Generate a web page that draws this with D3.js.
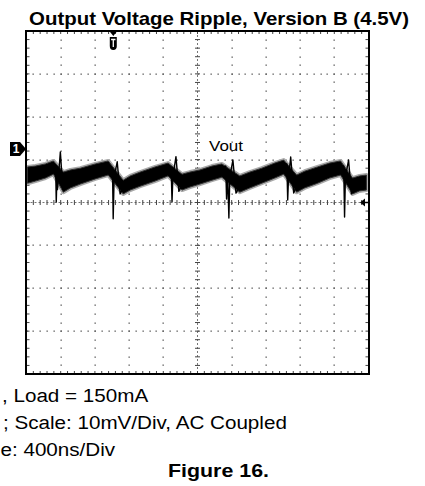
<!DOCTYPE html>
<html><head><meta charset="utf-8">
<script src="https://cdn.jsdelivr.net/npm/d3@7"></script>
<style>html,body{margin:0;padding:0;background:#fff;overflow:hidden}svg{display:block}</style>
</head><body>
<svg id="c" width="425" height="486"></svg>
<script>
// ---- data (time in ns, voltage in mV, 400ns/div, 10mV/div) ----
const title = "Output Voltage Ripple, Version B (4.5V)";
const channelLabel = "Vout";
const noteLines = [", Load = 150mA", "; Scale: 10mV/Div, AC Coupled", "e: 400ns/Div"];
const figureLabel = "Figure 16.";
const timeDomain = [0, 4000];
const voltDomain = [-40, 40];
const triggerTime = 1015;
const triggerLevel = 0;
const channelOffset = 12.5;

// band envelope of the noisy trace
const bandT  = [12, 105, 222, 315, 431, 513, 630, 805, 956, 1131, 1213, 1330, 1504, 1656, 1819, 1912, 2029, 2169, 2285, 2495, 2612, 2752, 2903, 3008, 3160, 3253, 3405, 3545, 3673, 3813, 3894, 3976];
const bandHi = [8.3, 8.5, 9.0, 9.7, 7.1, 7.6, 8.0, 9.0, 9.7, 5.2, 6.2, 7.1, 8.3, 9.2, 6.6, 7.1, 7.6, 8.5, 9.0, 6.2, 7.1, 8.0, 9.2, 9.9, 6.4, 7.3, 8.3, 9.2, 9.7, 5.7, 6.2, 6.4];
const bandLo = [4.5, 5.0, 5.7, 6.6, 2.4, 3.4, 4.3, 5.5, 6.4, 2.0, 2.9, 3.8, 5.0, 6.2, 2.9, 3.6, 4.3, 5.2, 5.9, 2.4, 3.4, 4.5, 5.7, 6.6, 2.4, 3.4, 4.5, 5.7, 6.4, 2.0, 2.7, 2.9];

// switching spikes (polyline points)
const spikes = [
  {t: [315, 342, 348, 356, 362, 396, 425, 460], v: [8.2, 7.0, 0.1, 6.0, 3.0, 11.8, 3.0, 4.5]},
  {t: [956, 1006, 1014, 1025, 1061, 1095, 1131], v: [8.0, 7.5, -3.8, 6.0, 9.5, 2.0, 3.5]},
  {t: [1656, 1692, 1702, 1712, 1748, 1782, 1819], v: [8.0, 8.0, 0.2, 6.0, 10.7, 2.6, 4.2]},
  {t: [2285, 2330, 2340, 2352, 2367, 2378, 2414, 2450, 2495], v: [8.0, 8.5, 0.8, 7.0, -3.6, 6.0, 9.9, 2.2, 3.8]},
  {t: [3008, 3045, 3055, 3065, 3090, 3125, 3160], v: [8.5, 9.0, 0.6, 6.0, 10.6, 2.2, 4.0]},
  {t: [3673, 3710, 3720, 3730, 3767, 3800, 3835], v: [8.5, 8.5, -3.4, 6.0, 9.9, 2.0, 3.5]}
];

// ---- drawing ----
const svg = d3.select("#c");
const x = d3.scaleLinear().domain(timeDomain).range([26.5, 368.5]);
const y = d3.scaleLinear().domain(voltDomain).range([374, 31]);
const x0 = x.range()[0], x1 = x.range()[1], y0 = y.range()[1], y1 = y.range()[0];

const minorX = d3.range(timeDomain[0], timeDomain[1] + 1, 80);
const majorX = d3.range(timeDomain[0], timeDomain[1] + 1, 400);
const minorY = d3.range(voltDomain[0], voltDomain[1] + 0.01, 2);
const majorY = d3.range(voltDomain[0], voltDomain[1] + 0.01, 10);

const grid = svg.append("g");
majorX.slice(1, -1).forEach(t => {
  if (t === 2000) return;
  minorY.forEach(v => grid.append("rect").attr("x", Math.round(x(t)) - 0.5).attr("y", Math.round(y(v)) - 0.5)
    .attr("width", 1.3).attr("height", 1.3).attr("fill", "#555"));
});
majorY.slice(1, -1).forEach(v => {
  if (v === 0) return;
  minorX.forEach(t => grid.append("rect").attr("x", Math.round(x(t)) - 0.5).attr("y", Math.round(y(v)) - 0.5)
    .attr("width", 1.3).attr("height", 1.3).attr("fill", "#555"));
});
grid.append("line").attr("x1", x0).attr("x2", x1).attr("y1", y(0)).attr("y2", y(0))
  .attr("stroke", "#777").attr("stroke-width", 1).attr("stroke-dasharray", "2,2");
grid.append("line").attr("x1", x(2000)).attr("x2", x(2000)).attr("y1", y0).attr("y2", y1)
  .attr("stroke", "#777").attr("stroke-width", 1).attr("stroke-dasharray", "2,2");
minorX.forEach(t => grid.append("line").attr("x1", x(t)).attr("x2", x(t)).attr("y1", y(0) - 2.5).attr("y2", y(0) + 2.5)
  .attr("stroke", "#444").attr("stroke-width", 1));
minorY.forEach(v => grid.append("line").attr("x1", x(2000) - 2.5).attr("x2", x(2000) + 2.5).attr("y1", y(v)).attr("y2", y(v))
  .attr("stroke", "#444").attr("stroke-width", 1));
minorX.forEach(t => {
  grid.append("line").attr("x1", x(t)).attr("x2", x(t)).attr("y1", y0).attr("y2", y0 + 3).attr("stroke", "#444");
  grid.append("line").attr("x1", x(t)).attr("x2", x(t)).attr("y1", y1 - 3).attr("y2", y1).attr("stroke", "#444");
});
minorY.forEach(v => {
  grid.append("line").attr("x1", x0).attr("x2", x0 + 3).attr("y1", y(v)).attr("y2", y(v)).attr("stroke", "#444");
  grid.append("line").attr("x1", x1 - 3).attr("x2", x1).attr("y1", y(v)).attr("y2", y(v)).attr("stroke", "#444");
});

// trace band (grey fuzz under a black core)
const band = bandT.map((t, i) => ({t, hi: bandHi[i], lo: bandLo[i]}));
const area = d3.area().x(d => x(d.t)).y0(d => y(d.lo)).y1(d => y(d.hi));
svg.append("path").datum(band).attr("d", area)
  .attr("fill", "#999").attr("stroke", "#aaa").attr("stroke-width", 4).attr("stroke-linejoin", "round");
svg.append("path").datum(band).attr("d", area)
  .attr("fill", "#000").attr("stroke", "#333").attr("stroke-width", 1).attr("stroke-linejoin", "round");
const line = d3.line().x(d => x(d[0])).y(d => y(d[1]));
spikes.forEach(s => {
  svg.append("path").datum(s.t.map((t, i) => [t, s.v[i]]))
    .attr("d", line).attr("fill", "none").attr("stroke", "#000").attr("stroke-width", 1.4).attr("stroke-linejoin", "round");
});

// frame
svg.append("rect").attr("x", x0 - 0.5).attr("y", y0).attr("width", x1 - x0 + 1).attr("height", y1 - y0)
  .attr("fill", "none").attr("stroke", "#000").attr("stroke-width", 2);

// markers
const cy = y(channelOffset);
svg.append("path").attr("d", `M10,${cy - 7}H20L26,${cy}L20,${cy + 7}H10Z`).attr("fill", "#000");
svg.append("text").attr("x", 16).attr("y", cy + 4.5).attr("text-anchor", "middle")
  .attr("font-family", "Liberation Sans, Arial, sans-serif").attr("font-weight", "bold").attr("font-size", 12)
  .attr("fill", "#fff").text("1");
const tx = x(triggerTime);
svg.append("path").attr("d", `M${tx - 4},${y0}H${tx + 4}L${tx},${y0 + 5}Z`).attr("fill", "#000");
svg.append("path").attr("d", `M${tx - 3.5},37H${tx + 3.5}V46Q${tx + 3.5},50 ${tx},50Q${tx - 3.5},50 ${tx - 3.5},46Z`).attr("fill", "#000");
svg.append("path").attr("d", `M${tx - 2.2},39.5H${tx + 2.2}M${tx},39.5V47`).attr("stroke", "#fff").attr("stroke-width", 1.3);
const ty = y(triggerLevel);
svg.append("path").attr("d", `M360,${ty}L365,${ty - 4}V${ty + 4}Z`).attr("fill", "#000");
svg.append("line").attr("x1", 363).attr("x2", 368).attr("y1", ty).attr("y2", ty).attr("stroke", "#000").attr("stroke-width", 1.5);

// texts
const font = "Liberation Sans, Arial, Helvetica, sans-serif";
svg.append("text").attr("x", 29).attr("y", 25).attr("font-family", font).attr("font-weight", "bold")
  .attr("font-size", 18.6).attr("textLength", 380).attr("lengthAdjust", "spacingAndGlyphs").attr("fill", "#000").text(title);
svg.append("text").attr("x", 209).attr("y", 151).attr("font-family", font).attr("font-size", 15.5)
  .attr("textLength", 34).attr("lengthAdjust", "spacingAndGlyphs").attr("fill", "#000").text(channelLabel);

const notePos = [{x: 2, y: 402}, {x: 3, y: 429}, {x: 0.5, y: 456}];
noteLines.forEach((s, i) => {
  svg.append("g").attr("transform", `translate(${notePos[i].x},${notePos[i].y}) scale(1.11,1)`)
    .append("text").attr("font-family", font).attr("font-size", 18.6).attr("fill", "#000").text(s);
});
svg.append("g").attr("transform", "translate(168,477) scale(1.15,1)")
  .append("text").attr("font-family", font).attr("font-weight", "bold").attr("font-size", 18.6).attr("fill", "#000").text(figureLabel);
</script>
</body></html>
